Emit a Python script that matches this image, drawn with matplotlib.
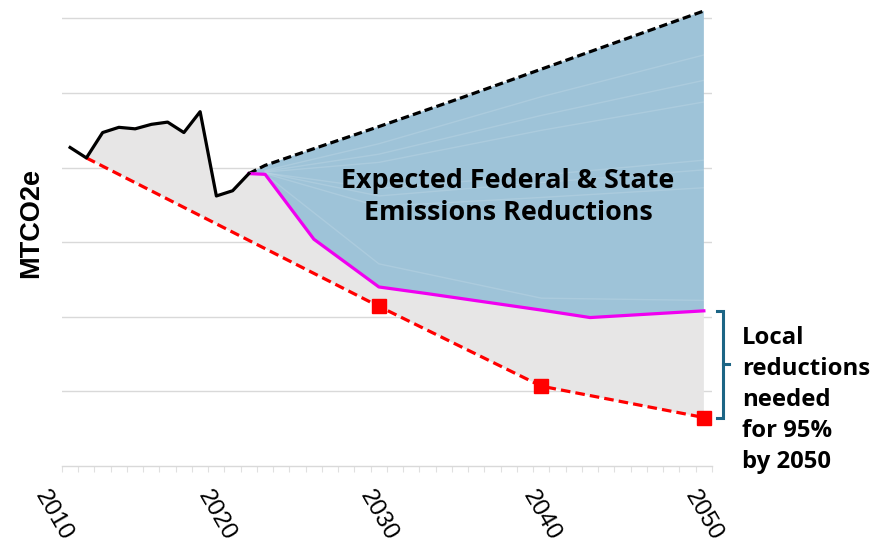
import matplotlib
matplotlib.use('Agg')
import matplotlib.pyplot as plt
import numpy as np

# historical emissions (MTCO2e; one gridline = 1 unit)
hist_years = [2011, 2012, 2013, 2014, 2015, 2016, 2017, 2018, 2019, 2020, 2021, 2022]
hist_vals = [4.27, 4.13, 4.47, 4.54, 4.52, 4.58, 4.61, 4.47, 4.75, 3.62, 3.69, 3.92]

# business as usual projection (black dashed)
bau_years = [2022, 2023, 2025, 2030, 2035, 2040, 2045, 2050]
bau_vals = [3.92, 4.03, 4.18, 4.55, 4.93, 5.32, 5.71, 6.10]

# with expected federal & state reductions (magenta)
fs_years = [2022, 2023, 2026, 2030, 2033, 2040, 2043, 2050]
fs_vals = [3.92, 3.91, 3.04, 2.40, 2.31, 2.09, 1.99, 2.08]

# 95% by 2050 target path (red dashed)
tgt_years = [2012, 2030, 2040, 2050]
tgt_vals = [4.13, 2.14, 1.07, 0.65]
marker_years = [2030, 2040, 2050]

# faint boundaries of the stacked wedges inside the blue area
wedge_years = [2023, 2030, 2040, 2050]
wedges = [
    [3.96, 4.32, 4.95, 5.51],
    [3.95, 4.18, 4.70, 5.17],
    [3.94, 4.07, 4.50, 4.88],
    [3.93, 3.72, 3.90, 4.10],
    [3.93, 3.62, 3.80, 3.97],
    [3.92, 3.48, 3.60, 3.73],
    [3.91, 2.71, 2.25, 2.22],
]

decades = [2010, 2020, 2030, 2040, 2050]

fig = plt.figure(figsize=(8.77, 5.46), dpi=100)
ax = fig.add_axes([62/877, 80/546, 650/877, 462.5/546])
ax.set_xlim(2010.5, 2050.5)
ax.set_ylim(0, 6.2)

# gridlines
for g in range(1, 7):
    ax.axhline(g, color='#D9D9D9', lw=1, zorder=0)

# grey area: between historical / federal-state path and target path
up_x = hist_years + fs_years[1:]
up_y = hist_vals + fs_vals[1:]
ax.fill(up_x + tgt_years[::-1], up_y + tgt_vals[::-1], color='#E7E6E6', lw=0, zorder=1)

# blue area: between BAU and federal-state path
ax.fill(bau_years + fs_years[::-1], bau_vals + fs_vals[::-1], color='#9EC3D8', lw=0, zorder=1)
for w in wedges:
    ax.plot(wedge_years, w, color='white', lw=1, alpha=0.14, zorder=2)

ax.plot(bau_years, bau_vals, color='black', lw=2.3, ls=(0, (2.6, 1.3)), zorder=3)
ax.plot(tgt_years, tgt_vals, color='#FF0000', lw=2.3, ls=(0, (3.0, 1.6)), zorder=3)
ax.plot(marker_years, [tgt_vals[tgt_years.index(y)] for y in marker_years], 's',
        color='#FF0000', ms=9.5, zorder=4)
ax.plot(fs_years, fs_vals, color='#F000F0', lw=2.3, zorder=4)
ax.plot(hist_years, hist_vals, color='black', lw=2.3, zorder=5)

# axes styling
for s in ['top', 'left', 'right']:
    ax.spines[s].set_visible(False)
ax.spines['bottom'].set_color('#D9D9D9')
ax.spines['bottom'].set_linewidth(1)
ax.set_yticks([])
ax.set_xticks(np.arange(2010.5, 2051, 1))
ax.tick_params(axis='x', length=4, color='#E0E0E0', labelbottom=False)

trans = ax.get_xaxis_transform()
for d in decades:
    ax.text(d, -0.045, str(d), transform=trans, rotation=-60, ha='center', va='top',
            fontsize=17.5, family='Liberation Sans', clip_on=False)

fig.text(31/877, 1 - 223/546, 'MTCO2e', rotation=90, ha='center', va='center',
         fontsize=19.5, fontweight='bold', family='Liberation Sans')

fig.text(508/877, 1 - 197/546, 'Expected Federal & State\nEmissions Reductions',
         ha='center', va='center', fontsize=19.4, fontweight='bold', family='Open Sans',
         linespacing=1.33)

# bracket for local reductions
bx0, bx1, bx2 = 2050.8, 2051.18, 2051.55
yt, yb = fs_vals[-1], tgt_vals[-1]
ym = (yt + yb) / 2
bc = '#1C6585'
ax.plot([bx0, bx1, bx1, bx0], [yt, yt, yb, yb], color=bc, lw=2.2, clip_on=False,
        solid_joinstyle='miter')
ax.plot([bx1, bx2], [ym, ym], color=bc, lw=2.2, clip_on=False)

fig.text(742/877, 1 - 400/546, 'Local\nreductions\nneeded\nfor 95%\nby 2050',
         ha='left', va='center', fontsize=17.2, fontweight='bold', family='Open Sans',
         linespacing=1.38)

fig.savefig('out.png', dpi=100)
